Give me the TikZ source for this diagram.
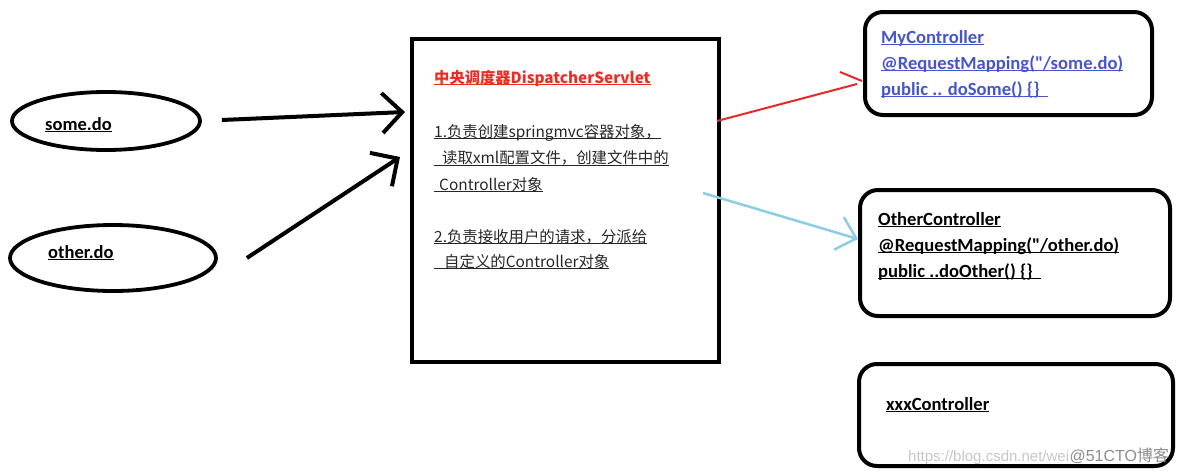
\documentclass[tikz,border=0pt]{standalone}
\usepackage{fontspec}
\setmainfont{Carlito}
\newfontfamily\cjk{Noto Sans CJK SC}
\newfontfamily\wmfont{Liberation Sans}
\usetikzlibrary{shapes.geometric,arrows.meta,positioning}
\definecolor{titlered}{RGB}{235,45,40}
\definecolor{ctrlblue}{RGB}{70,85,205}
\definecolor{linkred}{RGB}{230,40,40}
\definecolor{linkblue}{RGB}{140,205,230}
\newcommand{\undl}[1]{\setbox0\hbox{#1}\rlap{\rule[-2.4pt]{\wd0}{1.1pt}}\box0}
\tikzset{request/.style={ellipse,draw,line width=3.8pt,inner sep=0pt},
servlet/.style={draw,line width=4pt,inner sep=0pt},
ctrlbox/.style={draw,line width=4pt,rounded corners=18pt,inner sep=0pt},
reqtext/.style={anchor=base west,inner sep=0pt,font=\bfseries\fontsize{18.5}{26}\selectfont},
ctrltext/.style={anchor=base west,inner sep=0pt,font=\bfseries\fontsize{18.6}{26}\selectfont},
cntext/.style={anchor=base west,inner sep=0pt,text=black!85,font=\cjk\fontsize{15.4}{26}\selectfont},
bigarrow/.style={-{Straight Barb[length=20pt,width=40pt]},line width=4pt}
}

\begin{document}
\begin{tikzpicture}[x=1pt,y=-1pt]
            \useasboundingbox (0,0) rectangle (1184,474);
            % requests
            \node[request,minimum width=188pt,minimum height=58pt] (some) at (106,121) {};
            \node[request,minimum width=206pt,minimum height=66pt] (other) at (113,258) {};
            \node[reqtext] (some_t) at (45,130) {\undl{some.do}};
            \node[reqtext] (other_t) at (48,258) {\undl{other.do}};
            % central dispatcher
            \node[servlet,minimum width=307pt,minimum height=323pt] (servlet) at (565.5,200.5) {};
            \node[cntext,text=titlered,font=\cjk\bfseries\fontsize{15.3}{26}\selectfont] (title)
                at ([shift={(24,46)}]servlet.north west) {\undl{中央调度器DispatcherServlet}};
            \foreach \line [count=\i] in {{1.负责创建springmvc容器对象，},
                    {\hspace{8pt}读取xml配置文件，创建文件中的},
                    {\hspace{5pt}Controller对象}}
                \node[cntext] (duty1_\i) at ([shift={(24,100+26.5*(\i-1))}]servlet.north west) {\undl{\line}};
            \foreach \line [count=\i] in {{2.负责接收用户的请求，分派给},
                    {\hspace{10pt}自定义的Controller对象}}
                \node[cntext] (duty2_\i) at ([shift={(24,205+25*(\i-1))}]servlet.north west) {\undl{\line}};
            % controllers
            \node[ctrlbox,minimum width=287pt,minimum height=103pt] (myctrl) at (1008.5,63.5) {};
            \node[ctrlbox,minimum width=310pt,minimum height=126pt] (otherctrl) at (1015,253) {};
            \node[ctrlbox,minimum width=314pt,minimum height=102pt] (xxxctrl) at (1016,415) {};
            \foreach \line [count=\i] in {{MyController},{@RequestMapping(\textquotedbl/some.do)},{public .. doSome() \{\}\hspace{8pt}}}
                \node[ctrltext,text=ctrlblue] (my_\i) at ([shift={(18,33+26*(\i-1))}]myctrl.north west) {\undl{\line}};
            \foreach \line [count=\i] in {{OtherController},{@RequestMapping(\textquotedbl/other.do)},{public ..doOther() \{\}\hspace{8pt}}}
                \node[ctrltext] (oth_\i) at ([shift={(20,37+26*(\i-1))}]otherctrl.north west) {\undl{\line}};
            \node[ctrltext] (xxx_t) at ([shift={(29,48)}]xxxctrl.north west) {\undl{xxxController}};
            % requests go to the dispatcher
            \draw[bigarrow] ([shift={(20,-1)}]some.east) -- ([shift={(-5,75)}]servlet.north west);
            \draw[bigarrow] ([shift={(29,0)}]other.east) -- ([shift={(-10,120)}]servlet.north west);
            % dispatcher hands over to the controllers
            \coordinate (redtip) at ([shift={(-6,20.5)}]myctrl.west);
            \draw[linkred,line width=2pt] ([shift={(-4,84)}]servlet.north east) -- (redtip);
            \draw[linkred,line width=2pt] ([shift={(-17,-12)}]redtip) -- ([shift={(5,-3)}]redtip);
            \draw[linkblue,line width=2.5pt,-{Straight Barb[length=18pt,width=34pt]}]
                ([shift={(-18,156)}]servlet.north east) -- ([shift={(0,-14)}]otherctrl.west);
            % watermark
            \node[anchor=base west,inner sep=0pt,text=black!22,font=\wmfont\fontsize{15}{15}\selectfont] (wm)
                at (908,461) {https://blog.csdn.net/wei};
            \node[anchor=base west,inner sep=0pt,text=black!45,font=\wmfont\fontsize{16}{16}\selectfont] (wm_site)
                at (wm.base east) {@51CTO{\cjk 博客}};
        \end{tikzpicture}
\end{document}
